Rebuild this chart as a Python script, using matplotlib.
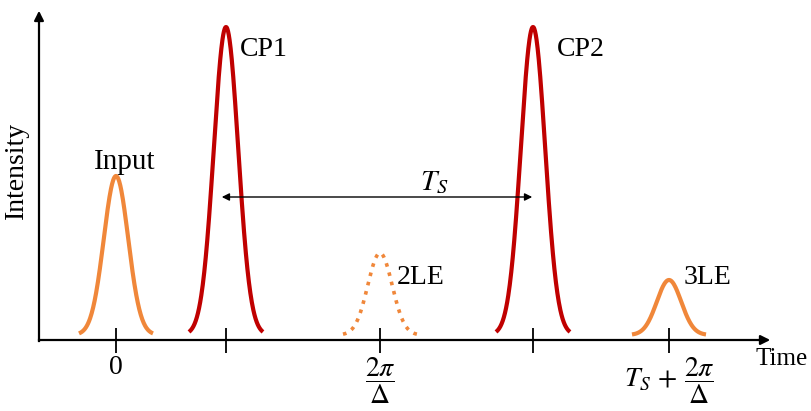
import numpy as np
import matplotlib
matplotlib.use("Agg")
import matplotlib.pyplot as plt

plt.rcParams['font.family'] = ['Liberation Serif', 'DejaVu Serif']
plt.rcParams['mathtext.fontset'] = 'stix'

# pulses: name, centre, height (schematic units)
names = ['Input', 'CP1', '2LE', 'CP2', '3LE']
centres = [0, 110, 264, 417, 553]
heights = [159, 308, 82, 308, 55]
colours = ['#F0873A', '#C00000', '#F0873A', '#C00000', '#F0873A']
styles = ['-', '-', ':', '-', '-']

tick_pos = [0, 110, 264, 417, 553]
tick_lab = ['0', '', r'$\dfrac{2\pi}{\Delta}$', '',
            r'$T_S\,+\,\dfrac{2\pi}{\Delta}$']

sigma = 12.2
half = 37
base = 5

fig = plt.figure(figsize=(8.11, 4.11), dpi=100)
ax = fig.add_axes([0, 0, 1, 1])
ax.set_xlim(-116, 695)
ax.set_ylim(-71, 340)
ax.patch.set_alpha(0)

for c, h, col, ls in zip(centres, heights, colours, styles):
    t = np.linspace(c - half, c + half, 200)
    ax.plot(t, base + h * np.exp(-(t - c) ** 2 / (2 * sigma ** 2)),
            color=col, lw=3 if ls == '-' else 2.6, ls=ls, solid_capstyle='butt')

# axes with arrows
for s in ['top', 'right']:
    ax.spines[s].set_visible(False)
ax.spines['bottom'].set_position(('data', 0))
ax.spines['left'].set_position(('data', -77))
ax.spines['bottom'].set_bounds(-77, 645)
ax.spines['left'].set_bounds(-1, 320)
ax.spines['bottom'].set_linewidth(1.6)
ax.spines['left'].set_linewidth(1.6)
ax.annotate('', xy=(657, 0), xytext=(640, 0),
            arrowprops=dict(arrowstyle='-|>', color='black', lw=1.6, mutation_scale=14))
ax.annotate('', xy=(-77, 332), xytext=(-77, 315),
            arrowprops=dict(arrowstyle='-|>', color='black', lw=1.6, mutation_scale=14))

ax.set_yticks([])
ax.set_xticks(tick_pos)
ax.set_xticklabels(tick_lab, fontsize=20)
ax.tick_params(axis='x', direction='inout', length=18, width=1.3, pad=2)

# T_S double arrow
ax.annotate('', xy=(103, 143), xytext=(419, 143),
            arrowprops=dict(arrowstyle='<|-|>', color='black', lw=1.0, mutation_scale=11))
ax.text(318, 157, r'$T_S$', fontsize=21, ha='center', va='center')

fs = 20
ax.text(9, 178, 'Input', fontsize=21, ha='center', va='center')
ax.text(124, 291, 'CP1', fontsize=fs, ha='left', va='center')
ax.text(441, 291, 'CP2', fontsize=fs, ha='left', va='center')
ax.text(281, 62, '2LE', fontsize=fs, ha='left', va='center')
ax.text(568, 62, '3LE', fontsize=fs, ha='left', va='center')
ax.text(640, -19, 'Time', fontsize=18, ha='left', va='center')
ax.text(-100, 170, 'Intensity', fontsize=20, ha='center', va='center', rotation=90)

fig.savefig('out.png', dpi=100)
